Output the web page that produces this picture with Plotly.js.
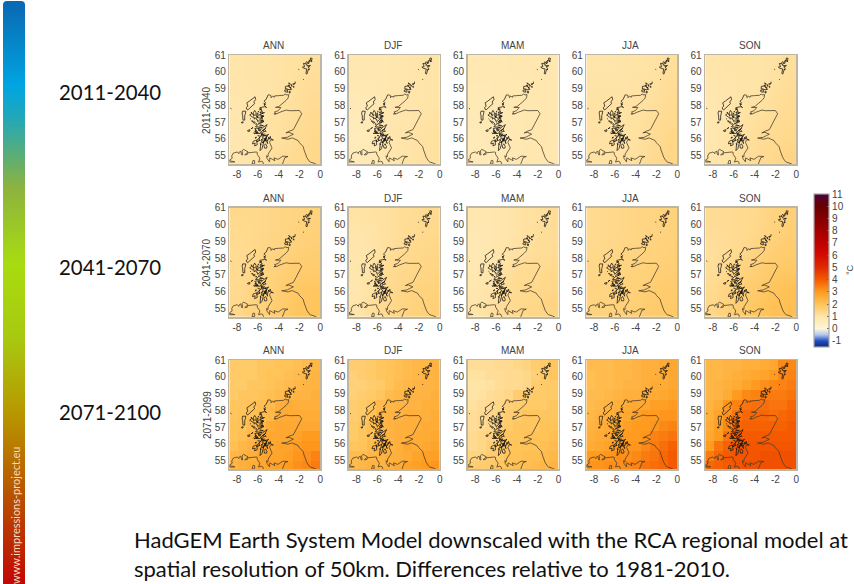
<!DOCTYPE html>
<html><head><meta charset="utf-8">
<script src="https://cdn.plot.ly/plotly-3.0.1.min.js"></script>
<style>html,body{margin:0;padding:0;background:#fff}#chart{width:854px;height:584px}</style>
</head><body><div id="chart"></div>
<script>
const seasons = ['ANN','DJF','MAM','JJA','SON'];
const periodAxisLabels = ['2011-2040','2041-2070','2071-2099'];
const periodLabels = ['2011-2040','2041-2070','2071-2100'];
const lonTicks = [-8,-6,-4,-2,0];
const latTicks = [55,56,57,58,59,60,61];
const barTicks = [-1,0,1,2,3,4,5,6,7,8,9,10,11];

// cell centres
const lonCoarse = [-8.0,-6.55,-5.1,-3.65,-2.2,-0.7];
const latCoarse = [60.5,59.4,58.3,57.2,56.1,55.0];
const lonFine = [-8.3,-7.43,-6.56,-5.69,-4.82,-3.95,-3.08,-2.21,-1.34,-0.47];
const latFine = [60.7,60.1,59.5,58.9,58.3,57.7,57.1,56.5,55.9,55.3,54.7];

const ann2011 = [[.95,1,1,1.05,1.1,1.15],[.95,1,1,1.05,1.15,1.2],[.9,.95,1,1.05,1.15,1.25],[.9,.95,1.05,1.1,1.2,1.3],[.85,.95,1.05,1.15,1.25,1.35],[.9,1,1.1,1.2,1.3,1.35]];
const djf2011 = [[.85,.85,.85,.9,.95,1],[.8,.8,.85,.9,.95,1],[.7,.75,.85,.9,.95,1],[.65,.75,.85,.9,1,1.05],[.6,.7,.85,.95,1.05,1.1],[.65,.75,.85,.95,1.05,1.1]];
const mam2011 = [[.8,.8,.8,.85,.85,.85],[.75,.75,.8,.8,.85,.85],[.75,.75,.8,.8,.85,.85],[.7,.75,.75,.8,.85,.85],[.65,.7,.75,.8,.85,.85],[.7,.7,.75,.8,.85,.85]];
const jja2011 = [[.95,.95,1,1,1.05,1.15],[1,1,1,1.05,1.1,1.2],[1.05,1.05,1.05,1.05,1.15,1.25],[1.05,1.05,1.05,1.1,1.2,1.3],[1.05,1.05,1.05,1.1,1.25,1.4],[1.05,1.05,1.05,1.15,1.3,1.4]];
const son2011 = [[.95,1,1,1,1.05,1.15],[.9,.95,1,1,1.1,1.2],[.85,.95,1,1.05,1.15,1.25],[.85,.95,1.05,1.15,1.2,1.3],[.85,1,1.1,1.2,1.3,1.35],[.9,1.05,1.15,1.25,1.35,1.45]];
const ann2041 = [[1.35,1.35,1.4,1.45,1.5,1.55],[1.3,1.35,1.4,1.45,1.55,1.6],[1.25,1.35,1.45,1.55,1.6,1.65],[1.3,1.4,1.5,1.6,1.7,1.75],[1.3,1.45,1.55,1.7,1.85,1.9],[1.35,1.5,1.6,1.75,1.9,1.95]];
const djf2041 = [[1.05,1.05,1.1,1.2,1.25,1.3],[.95,1,1.1,1.2,1.3,1.35],[.9,1,1.15,1.3,1.35,1.4],[.9,1.05,1.25,1.35,1.4,1.45],[.85,1.1,1.3,1.4,1.5,1.55],[.95,1.15,1.3,1.45,1.55,1.6]];
const mam2041 = [[.85,.85,.95,1.05,1.1,1.2],[.8,.85,.95,1.05,1.15,1.2],[.75,.85,1,1.1,1.2,1.25],[.8,.95,1.1,1.25,1.3,1.35],[.85,1,1.2,1.3,1.35,1.4],[.95,1.1,1.25,1.35,1.4,1.5]];
const jja2041 = [[1.3,1.35,1.4,1.45,1.5,1.55],[1.3,1.35,1.4,1.45,1.5,1.55],[1.35,1.4,1.45,1.5,1.55,1.6],[1.4,1.45,1.5,1.55,1.6,1.65],[1.45,1.5,1.55,1.6,1.7,1.75],[1.5,1.55,1.6,1.65,1.75,1.8]];
const son2041 = [[1.25,1.25,1.3,1.35,1.5,1.6],[1.2,1.25,1.3,1.4,1.55,1.65],[1.15,1.25,1.35,1.55,1.65,1.75],[1.2,1.35,1.55,1.65,1.8,1.85],[1.3,1.5,1.65,1.8,1.95,2.05],[1.4,1.6,1.75,1.9,2.05,2.1]];
const ann2071 = [[1.8,1.8,1.8,1.9,1.9,2,2,2.1,2.2,2.3],[1.8,1.8,1.8,1.9,2,2,2.1,2.2,2.3,2.4],[1.8,1.8,1.9,1.9,2,2.1,2.2,2.3,2.4,2.4],[1.8,1.9,1.9,2,2.1,2.2,2.3,2.4,2.4,2.5],[1.9,1.9,2,2.1,2.2,2.5,2.6,2.5,2.5,2.5],[1.9,2,2.1,2.2,2.3,2.6,2.6,2.6,2.6,2.6],[2,2,2.2,2.3,2.6,2.7,2.7,2.7,2.7,2.7],[2,2.1,2.3,2.4,2.7,2.7,2.7,2.8,3,3],[2.1,2.3,2.4,2.6,2.7,2.8,2.8,3,3.1,3.1],[2.3,2.4,2.5,2.7,2.8,2.8,2.9,3.1,3.2,3.4],[2.4,2.5,2.6,2.7,2.8,2.9,3,3.2,3.3,3.5]];
const djf2071 = [[1.7,1.7,1.8,1.9,2,2.1,2.2,2.3,2.3,2.4],[1.6,1.7,1.8,1.9,2,2.1,2.2,2.3,2.4,2.4],[1.6,1.6,1.7,1.8,2,2.2,2.3,2.4,2.4,2.4],[1.6,1.7,1.8,1.9,2.2,2.3,2.4,2.4,2.4,2.5],[1.7,1.8,1.9,2.2,2.3,2.4,2.4,2.4,2.5,2.5],[1.7,1.8,2,2.3,2.4,2.4,2.5,2.5,2.5,2.6],[1.8,1.9,2.1,2.3,2.4,2.5,2.5,2.5,2.6,2.6],[1.8,1.9,2.1,2.3,2.4,2.5,2.5,2.6,2.6,2.7],[1.9,2,2.2,2.4,2.4,2.5,2.7,2.6,2.7,2.8],[2.2,2.2,2.3,2.4,2.5,2.5,2.6,2.8,2.9,2.9],[2.2,2.3,2.4,2.4,2.5,2.6,2.8,2.9,3,3.1]];
const mam2071 = [[1.2,1.2,1.2,1.3,1.3,1.4,1.5,1.7,1.8,1.9],[1.1,1.1,1.2,1.2,1.3,1.3,1.4,1.6,1.8,1.9],[1,1,1.1,1.2,1.3,1.3,1.4,1.7,1.8,1.8],[1,1.1,1.2,1.3,1.4,1.7,1.7,1.8,1.8,1.8],[1.1,1.2,1.3,1.4,1.6,1.7,1.8,1.8,1.8,1.9],[1.2,1.3,1.4,1.5,1.7,1.8,1.9,1.9,1.9,1.9],[1.2,1.3,1.4,1.6,1.8,1.9,1.9,1.9,2,2],[1.3,1.4,1.5,1.7,1.9,1.9,2,2,2,2.1],[1.3,1.4,1.6,1.8,1.9,2,2,2,2.1,2.2],[1.5,1.5,1.7,1.8,2,2,2.1,2.1,2.2,2.3],[1.7,1.7,1.8,1.9,2,2.1,2.1,2.2,2.3,2.4]];
const jja2071 = [[2.2,2.2,2.2,2.3,2.3,2.4,2.5,2.5,2.6,2.7],[2.1,2.2,2.2,2.3,2.3,2.4,2.5,2.5,2.6,2.7],[2.1,2.2,2.2,2.3,2.4,2.4,2.5,2.6,2.6,2.7],[2.2,2.2,2.3,2.4,2.5,2.5,2.6,2.6,2.7,2.8],[2.2,2.3,2.4,2.5,2.6,2.7,2.7,2.9,2.9,3],[2.3,2.4,2.5,2.6,2.7,2.9,3,3,3.1,3.1],[2.4,2.5,2.6,2.7,2.9,3,3,3.1,3.3,3.4],[2.5,2.6,2.7,2.8,3,3,3.1,3.4,3.5,3.6],[2.6,2.7,2.8,3,3.1,3.1,3.3,3.5,3.7,3.9],[3,3,3.1,3.2,3.2,3.3,3.5,3.6,3.8,4],[3.1,3.1,3.2,3.2,3.3,3.4,3.6,3.7,3.8,4]];
const son2071 = [[2.3,2.3,2.4,2.4,2.5,2.5,2.6,2.7,3.3,3.3],[2.3,2.3,2.4,2.5,2.6,2.7,2.8,3,3.3,3.4],[2.3,2.4,2.5,2.6,2.8,3,3.2,3.3,3.4,3.5],[2.3,2.4,2.6,3,3.3,3.4,3.5,3.5,3.5,3.6],[2.4,2.6,3.1,3.4,3.6,3.7,3.7,3.6,3.6,3.8],[2.5,2.8,3.2,3.6,3.8,3.8,3.8,3.7,3.8,3.9],[2.6,2.9,3.3,3.8,3.9,3.9,3.9,3.9,3.9,4],[2.7,3,3.6,3.9,4,4,4,4,4,4],[3,3.6,3.9,4,4.1,4.1,4.1,4.1,4.1,4.1],[3.5,3.8,4,4.1,4.1,4.1,4.2,4.2,4.2,4.2],[3.8,3.9,4,4.1,4.2,4.2,4.2,4.2,4.2,4.2]];
const fields = [[ann2011,djf2011,mam2011,jja2011,son2011],[ann2041,djf2041,mam2041,jja2041,son2041],[ann2071,djf2071,mam2071,jja2071,son2071]];

// coastline outlines, as [lon, lat] pairs
const eastCoast = [[-5,58.63],[-4.75,58.6],[-4.72,58.45],[-4.6,58.55],[-4.42,58.48],[-4.4,58.56],[-3.99,58.58],[-3.75,58.58],[-3.52,58.6],[-3.37,58.67],[-3.2,58.62],[-3.03,58.64],[-3.08,58.44],[-3.29,58.29],[-3.65,58.11],[-3.85,58.01],[-3.97,57.93],[-4.3,57.88],[-4,57.85],[-3.78,57.87],[-4.04,57.68],[-4.4,57.6],[-4.23,57.51],[-4.45,57.49],[-4.2,57.49],[-3.87,57.59],[-3.6,57.66],[-3.28,57.72],[-2.95,57.68],[-2.52,57.67],[-2,57.69],[-1.78,57.5],[-2.07,57.15],[-2.2,56.96],[-2.46,56.71],[-2.58,56.55],[-2.97,56.46],[-3.3,56.36],[-3,56.39],[-2.58,56.28],[-2.85,56.2],[-3.15,56.1],[-3.7,56.05],[-3.3,56],[-3.1,55.98],[-2.7,56.06],[-2.5,56],[-2.13,55.9],[-2,55.77],[-1.8,55.67],[-1.65,55.55],[-1.55,55.33],[-1.42,55.02],[-1.3,54.9],[-1.1,54.7],[-0.95,54.62],[-0.6,54.55],[-0.3,54.46]];
const southWest = [[-4.75,55.95],[-4.87,55.8],[-4.63,55.46],[-4.85,55.24],[-5,55.1],[-5.03,54.92],[-5.15,55],[-5.12,54.84],[-4.87,54.63],[-4.85,54.87],[-4.36,54.7],[-4.44,54.87],[-4.2,54.83],[-4.05,54.78],[-3.6,54.97],[-3.1,54.95],[-3.4,54.88],[-3.57,54.65],[-3.63,54.5],[-3.6,54.4]];
const westCoast = [[-5,58.63],[-5.1,58.45],[-5.2,58.35],[-5.4,58.25],[-5.25,58.15],[-5.4,58.02],[-5.15,57.87],[-5.35,57.92],[-5.6,57.9],[-5.8,57.86],[-5.7,57.72],[-5.55,57.65],[-5.8,57.58],[-5.5,57.53],[-5.85,57.43],[-5.45,57.38],[-5.7,57.28],[-5.5,57.25],[-5.65,57.18],[-5.45,57.1],[-5.7,57.08],[-5.83,57],[-5.55,56.98],[-5.9,56.9],[-6.22,56.73],[-5.6,56.68],[-5.95,56.63],[-5.7,56.55],[-5.47,56.7],[-5.1,56.85],[-5.35,56.55],[-5.2,56.45],[-5.5,56.42],[-5.55,56.25],[-5.35,56.3],[-5.6,56.12],[-5.45,56.05],[-5.7,55.93],[-5.55,55.95],[-5.72,55.7],[-5.78,55.4],[-5.78,55.3],[-5.6,55.42],[-5.45,55.7],[-5.4,55.87],[-5.1,56.18],[-5.2,55.95],[-5.3,55.85],[-5.15,55.95],[-5.05,55.88],[-4.95,56.1],[-4.9,55.98],[-4.8,56.15],[-4.75,56],[-4.5,55.93],[-4.75,55.95]];
const lewis = [[-6.26,58.51],[-6.2,58.35],[-6.38,58.2],[-6.3,58.1],[-6.45,58.02],[-6.65,57.9],[-6.75,57.9],[-6.95,57.73],[-7.05,57.76],[-7.1,57.87],[-6.95,57.95],[-7.05,58.15],[-6.8,58.25],[-6.55,58.37],[-6.26,58.51]];
const uist = [[-7.45,57.65],[-7.15,57.65],[-7.2,57.48],[-7.25,57.38],[-7.25,57.12],[-7.42,57.12],[-7.45,57.42],[-7.5,57.5],[-7.45,57.65]];
const barra = [[-7.55,57],[-7.4,57.02],[-7.42,56.95],[-7.55,56.95],[-7.55,57]];
const skye = [[-6.3,57.7],[-6.15,57.55],[-6.2,57.4],[-5.9,57.25],[-5.65,57.23],[-5.8,57.12],[-6,57.03],[-6.05,57.15],[-6.12,57.15],[-6.2,57.25],[-6.35,57.18],[-6.35,57.3],[-6.5,57.3],[-6.78,57.42],[-6.6,57.5],[-6.63,57.6],[-6.45,57.45],[-6.4,57.58],[-6.3,57.7]];
const raasay = [[-6,57.55],[-5.95,57.35],[-6.08,57.3],[-6.08,57.45],[-6,57.55]];
const rum = [[-6.4,57.03],[-6.25,57],[-6.3,56.93],[-6.45,56.97],[-6.4,57.03]];
const eigg = [[-6.15,56.92],[-6.1,56.87],[-6.2,56.87],[-6.15,56.92]];
const canna = [[-6.6,57.07],[-6.45,57.05],[-6.55,57.05],[-6.6,57.07]];
const coll = [[-6.65,56.6],[-6.45,56.68],[-6.45,56.65],[-6.6,56.57],[-6.65,56.6]];
const tiree = [[-6.98,56.5],[-6.75,56.55],[-6.78,56.45],[-6.95,56.45],[-6.98,56.5]];
const mull = [[-6.35,56.33],[-6,56.3],[-5.8,56.32],[-5.65,56.45],[-6.07,56.65],[-6.3,56.6],[-6.1,56.5],[-6.3,56.45],[-6,56.42],[-6.35,56.33]];
const lismore = [[-5.6,56.45],[-5.45,56.55],[-5.52,56.55],[-5.62,56.47],[-5.6,56.45]];
const slate = [[-5.7,56.35],[-5.62,56.2],[-5.58,56.25],[-5.65,56.37],[-5.7,56.35]];
const colonsay = [[-6.27,56.05],[-6.15,56.12],[-6.15,56.05],[-6.27,56.05]];
const jura = [[-5.72,56.15],[-5.85,56.05],[-5.9,55.87],[-6.1,55.83],[-6.05,55.95],[-5.95,56.02],[-5.72,56.15]];
const islay = [[-6.1,55.93],[-6.05,55.65],[-6.3,55.58],[-6.25,55.75],[-6.5,55.7],[-6.45,55.85],[-6.25,55.9],[-6.1,55.93]];
const gigha = [[-5.75,55.72],[-5.7,55.65],[-5.76,55.66],[-5.75,55.72]];
const arran = [[-5.25,55.71],[-5.12,55.55],[-5.15,55.45],[-5.35,55.45],[-5.4,55.6],[-5.25,55.71]];
const bute = [[-5.15,55.9],[-5,55.75],[-5.05,55.72],[-5.15,55.85],[-5.15,55.9]];
const inlets = [[-5.6,57.55],[-5.35,57.57],[-5.6,57.5],[null,null],[-5.75,57.35],[-5.4,57.35],[-5.7,57.3],[null,null],[-5.75,57.12],[-5.4,57.02],[-5.7,57.03],[null,null],[-5.8,56.85],[-5.45,56.78],[-5.85,56.78],[null,null],[-5.55,56.5],[-5.25,56.62],[-5.5,56.48],[null,null],[-5.55,56.2],[-5.2,56.22],[-5.5,56.15],[null,null],[-5.45,56],[-5.2,56.05],[-5.4,55.97],[null,null],[-5.3,56.18],[-4.95,56.27],[-5.25,56.12],[null,null],[-5.42,55.92],[-5.15,56.02],[-5.38,55.88],[null,null],[-5.5,55.75],[-5.4,55.9],[-5.55,55.8],[null,null],[-5.85,56.45],[-5.95,56.55],[-5.78,56.5],[null,null],[-6.2,56.38],[-5.95,56.37],[-6.15,56.33],[null,null],[-6.45,57.38],[-6.3,57.42],[-6.48,57.45],[null,null],[-6.1,57.22],[-6.0,57.3],[-6.15,57.3],[null,null],[-5.85,57.72],[-5.6,57.78],[-5.85,57.78],[null,null],[-5.45,58.12],[-5.25,58.05],[-5.4,58.08]];
const islets = [[-5.9,56.2],[-5.82,56.16],[-5.87,56.13],[-5.9,56.2],[null,null],[-5.7,56.22],[-5.65,56.18],[-5.72,56.17],[-5.7,56.22],[null,null],[-5.6,56.3],[-5.55,56.27],[-5.62,56.26],[-5.6,56.3],[null,null],[-6.4,56.35],[-6.35,56.32],[-6.42,56.31],[-6.4,56.35],[null,null],[-6.25,56.5],[-6.18,56.48],[-6.25,56.46],[-6.25,56.5],[null,null],[-6.7,57.2],[-6.65,57.17],[-6.72,57.16],[-6.7,57.2],[null,null],[-5.95,56.95],[-5.9,56.92],[-5.97,56.92],[-5.95,56.95],[null,null],[-5.75,57.5],[-5.7,57.47],[-5.76,57.46],[-5.75,57.5],[null,null],[-5.95,57.65],[-5.9,57.62],[-5.97,57.6],[-5.95,57.65],[null,null],[-5.55,55.8],[-5.48,55.75],[-5.53,55.73],[-5.55,55.8],[null,null],[-5.85,55.95],[-5.78,55.92],[-5.83,55.88],[-5.85,55.95],[null,null],[-5.35,55.95],[-5.25,55.9],[-5.32,55.88],[-5.35,55.95],[null,null],[-6,56.2],[-5.92,56.18],[-5.97,56.15],[-6,56.2]];
const stKilda = [[-8.6,57.82],[-8.54,57.8],[-8.6,57.8],[-8.6,57.82]];
const foula = [[-2.08,60.14],[-2.03,60.13],[-2.08,60.11],[-2.08,60.14]];
const fairIsle = [[-1.65,59.54],[-1.6,59.54],[-1.62,59.5],[-1.65,59.54]];
const orkney = [[-3.35,59.13],[-3,59.15],[-2.75,58.95],[-3,58.93],[-3.2,58.98],[-3.35,58.97],[-3.35,59.13],[null,null],[-3.42,58.9],[-3.15,58.93],[-3.15,58.78],[-3.4,58.82],[-3.42,58.9],[null,null],[-2.97,58.85],[-2.88,58.83],[-2.9,58.73],[-3,58.75],[-2.97,58.85],[null,null],[-3.05,59.33],[-2.9,59.3],[-2.9,59.25],[-3.05,59.3],[-3.05,59.33],[null,null],[-3.1,59.2],[-2.95,59.2],[-3,59.13],[-3.1,59.2],[null,null],[-2.82,59.25],[-2.72,59.2],[-2.75,59.13],[-2.82,59.25],[null,null],[-2.65,59.27],[-2.4,59.32],[-2.55,59.22],[-2.65,59.27],[null,null],[-2.62,59.13],[-2.52,59.13],[-2.55,59.06],[-2.62,59.13],[null,null],[-2.95,59.06],[-2.82,59.07],[-2.85,59.02],[-2.95,59.06],[null,null],[-2.45,59.38],[-2.38,59.38],[-2.42,59.34],[-2.45,59.38]];
const shetland = [[-1.28,59.86],[-1.15,60.15],[-1.05,60.2],[-1.2,60.3],[-1.05,60.35],[-1.35,60.4],[-1.2,60.5],[-1.3,60.6],[-1.4,60.55],[-1.35,60.47],[-1.62,60.5],[-1.5,60.3],[-1.72,60.28],[-1.55,60.2],[-1.3,60.17],[-1.38,59.9],[-1.28,59.86],[null,null],[-1.1,60.5],[-1.0,60.7],[-1.15,60.62],[-1.18,60.5],[-1.1,60.5],[null,null],[-0.85,60.65],[-0.78,60.8],[-0.95,60.82],[-0.95,60.68],[-0.85,60.65],[null,null],[-0.92,60.62],[-0.78,60.63],[-0.85,60.58],[-0.92,60.62],[null,null],[-1.08,60.35],[-0.95,60.38],[-1,60.32],[-1.08,60.35],[null,null],[-1.12,60.15],[-1.05,60.15],[-1.1,60.1],[-1.12,60.15]];
const ireland = [[-8.8,54.62],[-8.45,54.62],[-8.2,54.63],[-8.55,54.68],[-8.78,54.7],[-8.45,54.85],[-8.5,54.98],[-8.35,55.15],[-8,55.2],[-7.98,55.22],[-7.8,55.12],[-7.8,55.2],[-7.63,55.27],[-7.55,55.05],[-7.45,55.05],[-7.5,55.28],[-7.37,55.38],[-6.93,55.23],[-7.25,55.05],[-7,55.07],[-6.95,55.17],[-6.65,55.2],[-6.15,55.22],[-6.05,55.2],[-6.05,55.08],[-5.8,54.85],[-5.92,54.62],[-5.67,54.67],[-5.53,54.64],[-5.45,54.5],[-5.44,54.4]];
const lochNeagh = [[-6.45,54.72],[-6.3,54.7],[-6.3,54.52],[-6.55,54.5],[-6.45,54.72]];
const softCoast = [eastCoast,southWest,ireland,lochNeagh];
const darkCoast = [westCoast,inlets,islets,lewis,uist,barra,skye,raasay,rum,eigg,canna,coll,tiree,mull,lismore,slate,colonsay,jura,islay,gigha,arran,bute,stKilda,foula,fairIsle,orkney,shetland];

// legend colours by value
const legendStops = [[-1.5,'#0a2a80'],[-1,'#2050c0'],[-0.5,'#b0c8f0'],[0,'#fff6d8'],[1,'#ffe4a8'],[2,'#ffc358'],[3,'#ff9c20'],[4,'#f55a00'],[5,'#e02a00'],[6,'#d40c00'],[7,'#c00000'],[8,'#a30000'],[9,'#850000'],[10,'#680000'],[11,'#500040']];
// side band colours, from the bottom of the page to the top
const sideLevels = [0,1];
const sideStops = [[0,'#c20606'],[0.12,'#b84200'],[0.3,'#b89a00'],[0.42,'#a8c810'],[0.55,'#a8dc10'],[0.68,'#8db33e'],[0.8,'#22a8b8'],[0.855,'#00a5e2'],[1,'#0a68b2']];

const W=854,H=584;
const panelLeft=[229.3,348.8,467.6,586.3,705.2], panelWidth=91;
const panelTop=[55,207.7,360], panelHeight=109.4;
const fx=p=>p/W, fy=p=>1-p/H;
const flatten=parts=>{const lon=[],lat=[];parts.forEach(part=>{part.forEach(p=>{lon.push(p[0]);lat.push(p[1]);});lon.push(null);lat.push(null);});return {lon,lat};};
const soft=flatten(softCoast), dark=flatten(darkCoast);

const traces=[];
const layout={width:W,height:H,margin:{l:0,r:0,t:0,b:0,autoexpand:false},paper_bgcolor:'#fff',plot_bgcolor:'#fff',showlegend:false,
  font:{family:'Liberation Sans, Arial, sans-serif',color:'#444'},annotations:[],
  shapes:[
    {type:'path',xref:'paper',yref:'paper',path:`M ${fx(3)} ${fy(1)} L ${fx(7)} ${fy(1)} Q ${fx(3)} ${fy(1)} ${fx(3)} ${fy(5)} Z`,fillcolor:'#fff',line:{width:0},layer:'above'},
    {type:'path',xref:'paper',yref:'paper',path:`M ${fx(25)} ${fy(1)} L ${fx(21)} ${fy(1)} Q ${fx(25)} ${fy(1)} ${fx(25)} ${fy(5)} Z`,fillcolor:'#fff',line:{width:0},layer:'above'}],
  coloraxis:{cmin:-1.5,cmax:11,colorscale:legendStops.map(s=>[(s[0]+1.5)/12.5,s[1]]),
    colorbar:{x:fx(814),xanchor:'left',xpad:0,y:fy(194),yanchor:'top',ypad:0,thickness:15,thicknessmode:'pixels',len:153,lenmode:'pixels',
      tickmode:'array',tickvals:barTicks,ticktext:barTicks.map(String),ticks:'inside',ticklen:2,tickcolor:'#666',tickfont:{size:10,color:'#444'},outlinecolor:'#a8a8a8',outlinewidth:1.2}}};
const note=(text,x,y,o={})=>layout.annotations.push(Object.assign({text,x:fx(x),y:fy(y),xref:'paper',yref:'paper',showarrow:false,xanchor:'center',yanchor:'middle',font:{size:10,color:'#444'}},o));

let n=0;
fields.forEach((row,r)=>row.forEach((z,c)=>{
  n++;
  const xa='xaxis'+n, ya='yaxis'+n, xr='x'+n, yr='y'+n;
  const fine=r===2;
  traces.push({type:'heatmap',x:fine?lonFine:lonCoarse,y:fine?latFine:latCoarse,z,coloraxis:'coloraxis',xaxis:xr,yaxis:yr,zsmooth:fine?false:'best',hoverinfo:'skip'});
  traces.push({type:'scatter',mode:'lines',x:soft.lon,y:soft.lat,xaxis:xr,yaxis:yr,line:{color:'#4a4030',width:0.8},hoverinfo:'skip'});
  traces.push({type:'scatter',mode:'lines',x:dark.lon,y:dark.lat,xaxis:xr,yaxis:yr,line:{color:'#141414',width:0.75},hoverinfo:'skip'});
  const base={showgrid:false,zeroline:false,showline:true,mirror:true,linecolor:'#bdb6a2',linewidth:1.5,ticks:'',fixedrange:true,tickfont:{size:10,color:'#444'},tickmode:'array'};
  layout[xa]=Object.assign({},base,{domain:[fx(panelLeft[c]),fx(panelLeft[c]+panelWidth)],range:[-8.73,0],tickvals:lonTicks,ticktext:lonTicks.map(String),anchor:yr});
  layout[ya]=Object.assign({},base,{domain:[fy(panelTop[r]+panelHeight),fy(panelTop[r])],range:[54.48,61],tickvals:latTicks,ticktext:latTicks.map(String),anchor:xr});
  note(seasons[c],panelLeft[c]+panelWidth/2-1,panelTop[r]-9.5);
}));
periodAxisLabels.forEach((t,r)=>note(t,207,panelTop[r]+55,{textangle:-90}));

// side band
traces.push({type:'heatmap',x:[0,1],y:sideLevels,z:sideLevels.map(v=>[v,v]),colorscale:sideStops,zmin:0,zmax:1,showscale:false,zsmooth:'best',xaxis:'x16',yaxis:'y16',hoverinfo:'skip'});
layout.xaxis16={domain:[fx(3),fx(25)],range:[0,1],visible:false,fixedrange:true,anchor:'y16'};
layout.yaxis16={domain:[0,fy(1)],range:[0,1],visible:false,fixedrange:true,anchor:'x16'};

const serif='Lato, sans-serif';
periodLabels.forEach((t,r)=>note(t,110,[92,267,412][r],{font:{family:serif,size:20.4,color:'#111'}}));
note('HadGEM Earth System Model downscaled with the RCA regional model at<br>spatial resolution of 50km. Differences relative to 1981-2010.',133,554,{xanchor:'left',align:'left',borderpad:0,font:{family:serif,size:22,color:'#111'}});
note('www.impressions-project.eu',15,516,{textangle:-90,font:{family:serif,size:11,color:'#f4dcc0'}});
note('°C',850,270,{textangle:-90,font:{size:9,color:'#444'}});

Plotly.newPlot('chart',traces,layout,{staticPlot:true,displayModeBar:false});
</script></body></html>
